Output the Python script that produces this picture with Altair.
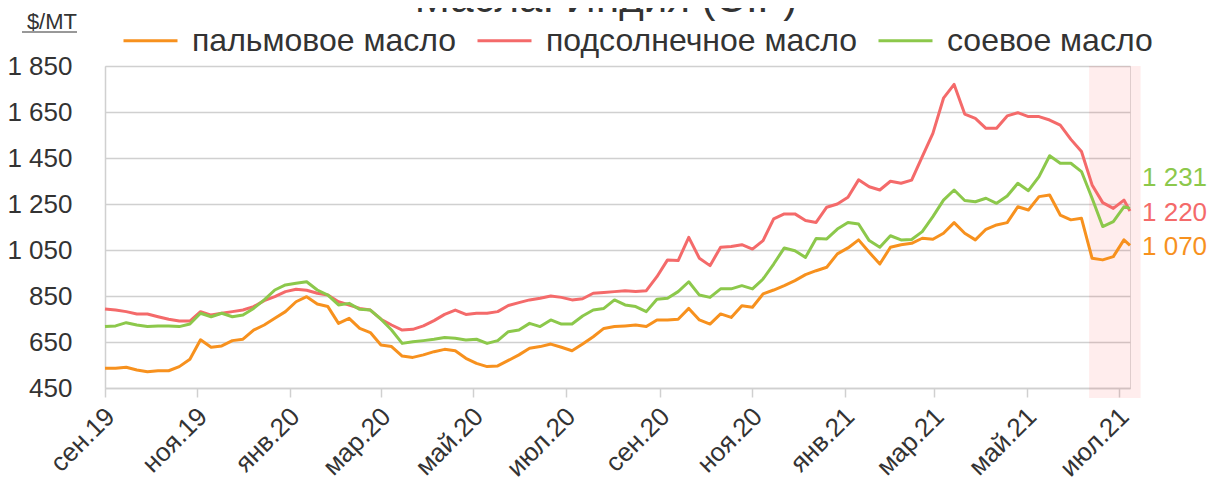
import altair as alt
import pandas as pd

# ---------------- data ----------------
start_date = "2019-09-01"
n_weeks = 97
end_date = "2021-07-08"

series_names = ["пальмовое масло", "подсолнечное масло", "соевое масло"]
series_colors = ["#F7911E", "#F46A6A", "#8CC84B"]

palm = [536, 536, 540, 528, 521, 525, 525, 543, 575, 660, 627, 633, 656, 662, 702, 724, 753, 782, 825, 847,
        815, 804, 731, 753, 709, 691, 637, 630, 589, 583, 594, 608, 618, 612, 579, 557, 543, 546, 570,
        594, 623, 630, 641, 627, 612, 641, 673, 709, 717, 720, 724, 717, 746, 746, 749, 796, 746,
        728, 772, 757, 808, 801, 859, 876, 895, 917, 943, 960, 975, 1033, 1059, 1094, 1040, 989, 1062, 1073,
        1079, 1101, 1097, 1123, 1169, 1123, 1094, 1140, 1159, 1169, 1238, 1224, 1282, 1289, 1202, 1181, 1188,
        1014, 1007, 1021, 1094]
palm_last = 1070

sunflower = [793, 789, 782, 772, 772, 760, 749, 741, 741, 782, 767, 775, 782, 789, 804, 830, 847, 869, 879, 875,
             862, 854, 825, 811, 796, 789, 749, 724, 702, 705, 720, 743, 770, 789, 770, 775, 775, 782, 809,
             821, 833, 840, 850, 844, 833, 838, 862, 865, 869, 873, 870, 873, 934, 1007, 1004, 1105, 1014,
             982, 1062, 1065, 1073, 1054, 1091, 1185, 1207, 1207, 1178, 1170, 1236, 1250, 1279, 1355, 1325, 1311, 1349, 1340,
             1354, 1456, 1557, 1710, 1770, 1641, 1622, 1579, 1579, 1633, 1647, 1630, 1630, 1615, 1593, 1531, 1478,
             1333, 1256, 1231, 1267]
sunflower_last = 1220

soy = [717, 720, 734, 724, 717, 720, 720, 717, 728, 775, 760, 775, 760, 767, 796, 833, 876, 898, 905, 912,
       876, 854, 811, 818, 792, 789, 749, 702, 644, 651, 656, 662, 670, 666, 659, 662, 644, 656, 695,
       702, 731, 717, 746, 728, 728, 763, 789, 796, 833, 811, 804, 782, 836, 840, 869, 912, 854,
       844, 881, 881, 895, 881, 924, 989, 1059, 1047, 1018, 1100, 1098, 1141, 1170, 1163, 1091, 1062, 1112, 1094,
       1096, 1130, 1195, 1267, 1311, 1265, 1260, 1275, 1253, 1285, 1340, 1308, 1369, 1460, 1427, 1427, 1391,
       1275, 1152, 1173, 1238]
soy_last = 1231

end_texts = ["1 070", "1 220", "1 231"]
end_label_pos = [1061, 1213, 1365]

band_start = "2021-06-11"
band_end = "2021-07-15"

month_names = ["янв", "фев", "мар", "апр", "май", "июн", "июл", "авг", "сен", "окт", "ноя", "дек"]
x_tick_dates = ["2019-09-01", "2019-11-01", "2020-01-01", "2020-03-01", "2020-05-01", "2020-07-01",
                "2020-09-01", "2020-11-01", "2021-01-01", "2021-03-01", "2021-05-01", "2021-07-01"]
y_ticks = [450, 650, 850, 1050, 1250, 1450, 1650, 1850]

title_text = "Масла: Индия (CIF)"
unit_text = "$/MT"

# ---------------- build tables ----------------
dates = [d.strftime("%Y-%m-%d") for d in pd.date_range(start_date, periods=n_weeks, freq="7D")] + [end_date]
rows = []
for name, vals, last in zip(series_names, [palm, sunflower, soy], [palm_last, sunflower_last, soy_last]):
    for d, v in zip(dates, vals + [last]):
        rows.append({"date": d, "value": v, "series": name})
df = pd.DataFrame(rows)

def ms(s):
    return int(pd.Timestamp(s, tz="UTC").value // 10**6)

x_domain = [ms(start_date), ms(end_date)]
x_ticks = [ms(s) for s in x_tick_dates]

labels_df = pd.DataFrame({"date": [end_date] * 3, "pos": end_label_pos,
                          "text": end_texts, "series": series_names})
band_df = pd.DataFrame({"date": [band_start], "date_end": [band_end]})

FONT = "Liberation Sans"
TXT = "#333333"
GRID = "#D0D0D0"

color_scale = alt.Scale(domain=series_names, range=series_colors)
month_arr = "[" + ",".join("'%s'" % m for m in month_names) + "]"

x_enc = alt.X(
    "date:T",
    scale=alt.Scale(type="utc", domain=x_domain, nice=False),
    axis=alt.Axis(
        title=None, values=x_ticks, grid=False,
        labelExpr=month_arr + "[utcmonth(datum.value)] + '.' + slice(toString(utcyear(datum.value)), 2)",
        labelAngle=-45, labelAlign="right", labelBaseline="middle",
        labelFontSize=26, labelFont=FONT, labelColor=TXT, labelPadding=15, labelOffset=5,
        tickSize=9, tickColor=GRID, tickWidth=1.5, domainColor=GRID, domainWidth=1.5,
        labelOverlap=False, labelFlush=False,
    ),
)
y_enc = alt.Y(
    "value:Q",
    scale=alt.Scale(domain=[450, 1850], nice=False, zero=False),
    axis=alt.Axis(
        title=None, values=y_ticks, grid=True, gridColor=GRID, gridWidth=1.5,
        labelExpr="replace(format(datum.value, ','), ',', ' ')",
        labelFontSize=26, labelFont=FONT, labelColor=TXT, labelPadding=33,
        ticks=False, domain=True, domainColor=GRID, domainWidth=1.5,
    ),
)

band = alt.Chart(band_df).mark_rect(color="#FF0000", opacity=0.07).encode(
    x=alt.X("date:T"), x2="date_end:T", y=alt.value(0), y2=alt.value(332)
)

lines = alt.Chart(df).mark_line(strokeWidth=3, strokeJoin="round").encode(
    x=x_enc,
    y=y_enc,
    color=alt.Color(
        "series:N", scale=color_scale,
        legend=alt.Legend(
            title=None, orient="none", legendX=17, legendY=-54, direction="horizontal", columns=3,
            symbolType="stroke", symbolSize=2916, symbolStrokeWidth=3,
            labelFontSize=32, labelFont=FONT, labelColor=TXT, labelLimit=600,
            labelOffset=13, columnPadding=14, padding=0,
        ),
    ),
    order=alt.Order("series:N"),
)

end_labels = alt.Chart(labels_df).mark_text(align="left", baseline="middle", dx=12, fontSize=26, font=FONT).encode(
    x=alt.X("date:T"), y=alt.Y("pos:Q"), text="text:N",
    color=alt.Color("series:N", scale=color_scale, legend=None),
)

title = alt.Chart(pd.DataFrame({"t": [title_text]})).mark_text(
    align="center", baseline="alphabetic", fontSize=42, font=FONT, color=TXT
).encode(x=alt.value(501), y=alt.value(-54), text="t:N")

unit = alt.Chart(pd.DataFrame({"t": [unit_text]})).mark_text(
    align="right", baseline="alphabetic", fontSize=22, font=FONT, color=TXT
).encode(x=alt.value(-28), y=alt.value(-37), text="t:N")

underline = alt.Chart(pd.DataFrame({"t": [unit_text]})).mark_rule(color=TXT, strokeWidth=1).encode(
    x=alt.value(-83), x2=alt.value(-28), y=alt.value(-34)
)

chart = alt.layer(band, lines, end_labels, title, unit, underline).properties(
    width=1025, height=322,
    autosize=alt.AutoSizeParams(type="none"),
    padding={"left": 97, "top": 58, "right": 79, "bottom": 94},
).configure_view(stroke=None).configure(font=FONT)

chart.save("out.html", embed_options={"renderer": "svg", "actions": False})
